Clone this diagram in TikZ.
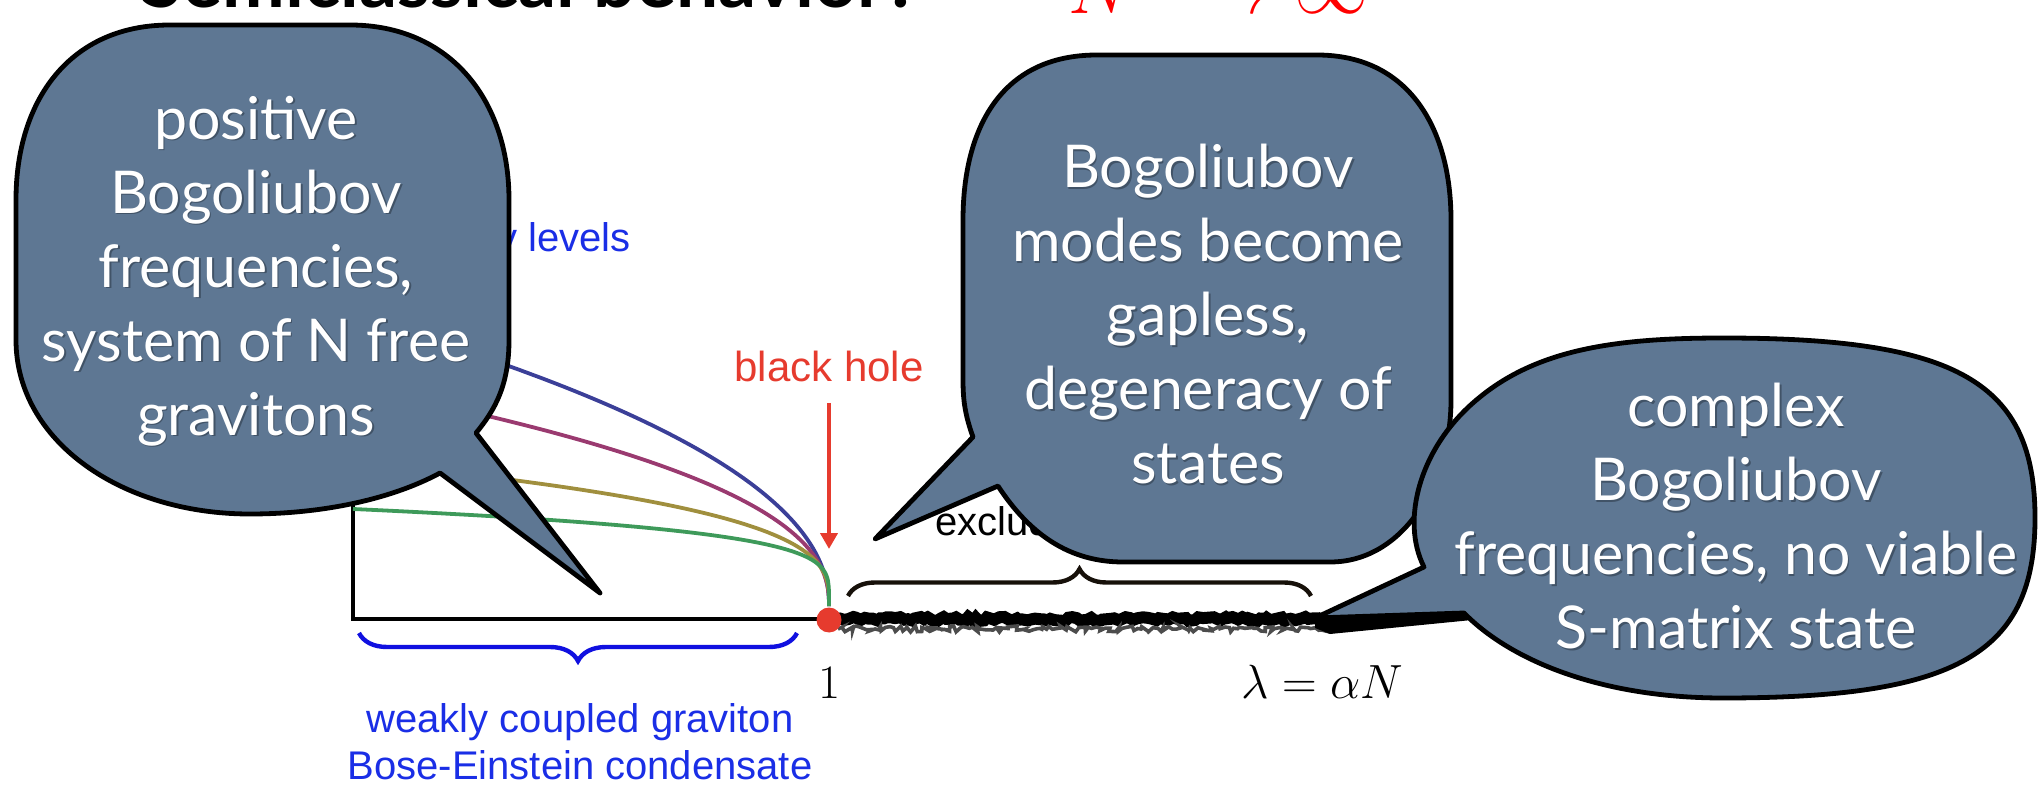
\RequirePackage{fix-cm}
\documentclass[tikz,border=0pt]{standalone}
\usepackage{fontspec}
\newfontfamily\bubblefont{Lato}
\newfontfamily\labelfont{Liberation Sans}
\usetikzlibrary{decorations.pathreplacing,decorations.pathmorphing,arrows.meta}
\definecolor{bubblefill}{HTML}{5E7793}
\definecolor{shadowc}{HTML}{2A3644}
\definecolor{lvlblue}{HTML}{3B3F98}
\definecolor{lvlmag}{HTML}{9A3A70}
\definecolor{lvlolive}{HTML}{A08F3E}
\definecolor{lvlgreen}{HTML}{3E9A5A}
\definecolor{bhred}{HTML}{E63B2E}
\definecolor{labelblue}{HTML}{1A2EE6}
\definecolor{braceblue}{HTML}{1010E0}
\definecolor{bracedark}{HTML}{17110A}
\begin{document}
\begin{tikzpicture}[x=0.5pt,y=-0.5pt,
  bubble/.style={fill=bubblefill,draw=black,line width=2.4pt,line join=round},
  btext/.style={align=center,text=white,inner sep=0pt,font=\bubblefont\fontsize{29.5}{37}\selectfont},
  bshadow/.style={btext,text=shadowc,opacity=0.55,xshift=0.8pt,yshift=-0.8pt},
  lbl/.style={inner sep=0pt,font=\labelfont\fontsize{20}{23.5}\selectfont},
  level/.style={line width=1.9pt},
  mathlbl/.style={inner sep=0pt,font=\fontsize{24}{28}\selectfont}]
\useasboundingbox (0,0) rectangle (2038,785);
\clip (0,0) rectangle (2038,785);

% title (clipped at the top edge)
\node[anchor=base west,inner sep=0pt,font=\bubblefont\bfseries\fontsize{37.5}{42}\selectfont] (title) at (141,8) {Semiclassical behavior?};
\node[anchor=base west,inner sep=0pt,text=red,font=\fontsize{37}{41}\selectfont] (limit) at (1068,14) {$N\longrightarrow\infty$};

% axes
\coordinate (axtop) at (353,470);
\coordinate (origin) at (353,619);
\coordinate (one) at (829,619);
\draw[line width=2pt] (axtop) -- (origin) -- (one);

% energy level curves
\foreach \H/\p/\c in {289/0.48/lvlblue,218/0.43/lvlmag,143/0.33/lvlolive,96/0.227/lvlgreen}{
  \draw[level,color=\c] plot[domain=1:0.02,samples=120,smooth] ({829-476*(\x)^3},{605-\H*(\x)^(3*\p)}) -- (829,606);
}

% labels
\node[lbl,text=labelblue,anchor=base east] (levels) at (631,252) {energy levels};
\node[lbl,anchor=base west] (excl) at (935,535) {excluded};
\node[lbl,text=bhred,font=\labelfont\fontsize{21}{24}\selectfont,anchor=base] (bh) at (829,382) {black hole};
\coordinate (bhtip) at (829,549);
\draw[bhred,line width=2pt,shorten <=10pt,-{Triangle[width=8.5pt,length=8pt]}] (bh.south) -- (bhtip);

% blue brace and its label
\coordinate (bl) at (359,633);
\coordinate (br) at (797,633);
\draw[braceblue,line width=2.2pt,decorate,decoration={brace,mirror,amplitude=14pt}] (bl) -- (br);
\node[lbl,text=labelblue,align=center] (bec) at (580,742) {weakly coupled graviton\\Bose-Einstein condensate};

% dark brace
\coordinate (kl) at (848,596);
\coordinate (kr) at (1311,596);
\draw[bracedark,line width=2.2pt,decorate,decoration={brace,amplitude=13.5pt}] (kl) -- (kr);

% rough thick segment
\pgfmathsetseed{7}
\coordinate (rs) at (836,619);
\coordinate (re) at (1326,619);
\draw[line width=6pt,decorate,decoration={random steps,segment length=2pt,amplitude=1pt}] (rs) -- (re);
\coordinate (rs2) at (838,629);
\coordinate (re2) at (1326,629);
\draw[line width=1.8pt,black!70,decorate,decoration={random steps,segment length=1.5pt,amplitude=1.5pt}] (rs2) -- (re2);

% axis labels
\node[mathlbl,anchor=base] (lab1) at (829,698) {$1$};
\node[mathlbl,anchor=base west] (lam) at (1241,698) {$\lambda=\alpha N$};

% black hole point
\node[circle,fill=bhred,inner sep=0pt,minimum size=12.5pt] (dot) at (829,620) {};

% bubble 1
\draw[bubble] (170,25) -- (350,25) .. controls (450,25) and (509,100) .. (509,200) -- (509,340)
  .. controls (509,385) and (495,410) .. (476,433) -- (600,593) -- (440,473)
  .. controls (390,500) and (320,514) .. (250,514) .. controls (120,514) and (16,440) .. (16,340)
  -- (16,200) .. controls (16,100) and (70,25) .. (170,25) -- cycle;
\node[bshadow] (t1s) at (256,271) {positive\\Bogoliubov\\frequencies,\\system of N free\\gravitons};
\node[btext] (t1) at (256,271) {positive\\Bogoliubov\\frequencies,\\system of N free\\gravitons};

% bubble 2
\draw[bubble] (1097,55) -- (1317,55) .. controls (1410,55) and (1451,130) .. (1451,220) -- (1451,400)
  .. controls (1451,480) and (1405,562) .. (1330,562) -- (1123,562)
  .. controls (1070,562) and (1030,535) .. (998,486) -- (875,539) -- (973,437)
  .. controls (965,415) and (963,400) .. (963,380) -- (963,220)
  .. controls (963,130) and (1000,55) .. (1097,55) -- cycle;
\node[bshadow] (t2s) at (1208,314) {Bogoliubov\\modes become\\gapless,\\degeneracy of\\states};
\node[btext] (t2) at (1208,314) {Bogoliubov\\modes become\\gapless,\\degeneracy of\\states};

% bubble 3
\fill[black] (1315,618) -- (1464,612) -- (1472,620) -- (1330,634) -- (1315,628) -- cycle;
\draw[bubble] (1723,338) .. controls (1957,338) and (2035,382) .. (2035,518)
  .. controls (2035,654) and (1957,698) .. (1723,698)
  .. controls (1600,698) and (1510,660) .. (1464,613) -- (1315,618) -- (1424,567)
  .. controls (1400,520) and (1420,445) .. (1480,397)
  .. controls (1540,348) and (1620,338) .. (1723,338) -- cycle;
\node[bshadow] (t3s) at (1736,516) {complex\\Bogoliubov\\frequencies, no viable\\S-matrix state};
\node[btext] (t3) at (1736,516) {complex\\Bogoliubov\\frequencies, no viable\\S-matrix state};
\end{tikzpicture}
\end{document}
